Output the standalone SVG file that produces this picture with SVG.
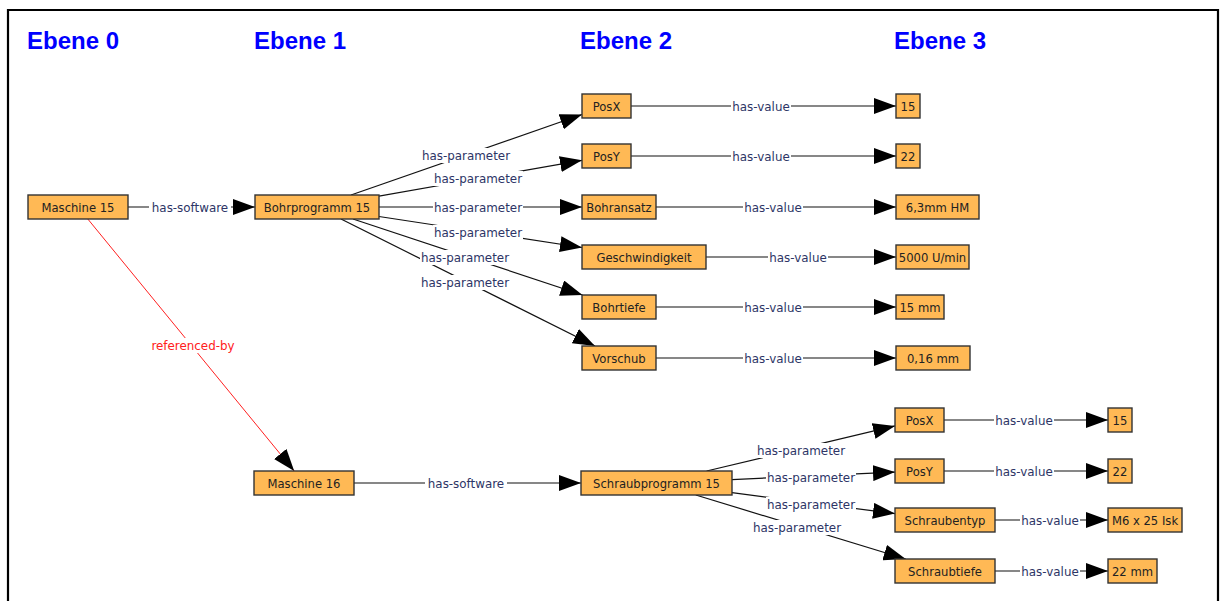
<svg xmlns="http://www.w3.org/2000/svg" width="1223" height="601" viewBox="0 0 1223 601">
  <style>
    .frame { fill: none; stroke: #000; stroke-width: 2.2; }
    .level { font-family: "Liberation Sans", Arial, sans-serif; font-weight: bold; font-size: 24px; fill: #0000ff; }
    .node rect { fill: #ffb955; stroke: #333; stroke-width: 1.4; }
    .node text { font-family: "DejaVu Sans", Tahoma, sans-serif; font-size: 11.6px; fill: #222; text-anchor: middle; dominant-baseline: central; }
    .edge { stroke: #111; stroke-width: 1.2; fill: none; marker-end: url(#arrow); }
    .edge.ref { stroke: #ff2020; stroke-width: 1; }
    .lbl rect { fill: #fff; }
    .lbl text { font-family: "DejaVu Sans", Tahoma, sans-serif; font-size: 11.9px; fill: #2d3566; text-anchor: middle; dominant-baseline: central; }
    .lbl.ref text { fill: #ff2020; }
  </style>
  <defs>
    <marker id="arrow" markerUnits="userSpaceOnUse" markerWidth="23" markerHeight="16" refX="22" refY="8" orient="auto">
      <path d="M0,0 L22,8 L0,16 z" fill="#000"/>
    </marker>
  </defs>

  <rect width="1223" height="601" fill="#fff"/>
  <path class="frame" d="M8,601 V10 H1218 V601"/>

  <!-- level headings -->
  <text class="level" x="27" y="49">Ebene 0</text>
  <text class="level" x="254" y="49">Ebene 1</text>
  <text class="level" x="580" y="49">Ebene 2</text>
  <text class="level" x="894" y="49">Ebene 3</text>

  <!-- connectors -->
  <g id="connectors">
    <line class="edge" x1="128" y1="207" x2="255" y2="207"/>
    <line class="edge" x1="351" y1="195" x2="582" y2="114.5"/>
    <line class="edge" x1="379" y1="196.1" x2="582" y2="160.3"/>
    <line class="edge" x1="379" y1="207" x2="582" y2="207"/>
    <line class="edge" x1="379" y1="216.5" x2="582" y2="247.5"/>
    <line class="edge" x1="353" y1="219" x2="582.5" y2="295"/>
    <line class="edge" x1="341" y1="219" x2="595" y2="346"/>
    <line class="edge" x1="631" y1="106" x2="896" y2="106"/>
    <line class="edge" x1="631" y1="156" x2="896" y2="156"/>
    <line class="edge" x1="656" y1="207" x2="896" y2="207"/>
    <line class="edge" x1="706" y1="257" x2="896" y2="257"/>
    <line class="edge" x1="656" y1="307" x2="896" y2="307"/>
    <line class="edge" x1="656" y1="358" x2="896" y2="358"/>
    <line class="edge ref" x1="87.8" y1="219" x2="294.2" y2="471"/>
    <line class="edge" x1="354" y1="483" x2="581" y2="483"/>
    <line class="edge" x1="706.6" y1="471" x2="895" y2="425.9"/>
    <line class="edge" x1="732" y1="479.6" x2="895" y2="472.1"/>
    <line class="edge" x1="732" y1="492.7" x2="895" y2="513.6"/>
    <line class="edge" x1="695.8" y1="495" x2="905.7" y2="559"/>
    <line class="edge" x1="944" y1="420" x2="1108" y2="420"/>
    <line class="edge" x1="944" y1="471" x2="1108" y2="471"/>
    <line class="edge" x1="995" y1="520" x2="1108" y2="520"/>
    <line class="edge" x1="995" y1="571" x2="1108" y2="571"/>

    <!-- edge labels -->
    <g class="lbl"><rect x="149" y="200" width="82" height="15"/><text x="190" y="207.5">has-software</text></g>
    <g class="lbl"><rect x="421" y="148" width="90" height="15"/><text x="466" y="155.5">has-parameter</text></g>
    <g class="lbl"><rect x="433" y="171" width="90" height="15"/><text x="478" y="178.5">has-parameter</text></g>
    <g class="lbl"><rect x="433" y="200" width="90" height="15"/><text x="478" y="207.5">has-parameter</text></g>
    <g class="lbl"><rect x="433" y="225" width="90" height="15"/><text x="478" y="232.5">has-parameter</text></g>
    <g class="lbl"><rect x="420" y="250" width="90" height="15"/><text x="465" y="257.5">has-parameter</text></g>
    <g class="lbl"><rect x="420" y="275" width="90" height="15"/><text x="465" y="282.5">has-parameter</text></g>
    <g class="lbl"><rect x="731" y="99" width="60" height="15"/><text x="761" y="106.5">has-value</text></g>
    <g class="lbl"><rect x="731" y="149" width="60" height="15"/><text x="761" y="156.5">has-value</text></g>
    <g class="lbl"><rect x="743" y="200" width="60" height="15"/><text x="773" y="207.5">has-value</text></g>
    <g class="lbl"><rect x="768" y="250" width="60" height="15"/><text x="798" y="257.5">has-value</text></g>
    <g class="lbl"><rect x="743" y="300" width="60" height="15"/><text x="773" y="307.5">has-value</text></g>
    <g class="lbl"><rect x="743" y="351" width="60" height="15"/><text x="773" y="358.5">has-value</text></g>
    <g class="lbl ref"><rect x="148" y="338" width="90" height="15"/><text x="193" y="345.5">referenced-by</text></g>
    <g class="lbl"><rect x="425" y="476" width="82" height="15"/><text x="466" y="483.5">has-software</text></g>
    <g class="lbl"><rect x="756" y="443" width="90" height="15"/><text x="801" y="450.5">has-parameter</text></g>
    <g class="lbl"><rect x="766" y="470" width="90" height="15"/><text x="811" y="477.5">has-parameter</text></g>
    <g class="lbl"><rect x="766" y="497" width="90" height="15"/><text x="811" y="504.5">has-parameter</text></g>
    <g class="lbl"><rect x="752" y="520" width="90" height="15"/><text x="797" y="527.5">has-parameter</text></g>
    <g class="lbl"><rect x="994" y="413" width="60" height="15"/><text x="1024" y="420.5">has-value</text></g>
    <g class="lbl"><rect x="994" y="464" width="60" height="15"/><text x="1024" y="471.5">has-value</text></g>
    <g class="lbl"><rect x="1020" y="513" width="60" height="15"/><text x="1050" y="520.5">has-value</text></g>
    <g class="lbl"><rect x="1020" y="564" width="60" height="15"/><text x="1050" y="571.5">has-value</text></g>
  </g>

  <!-- level 0 -->
  <g id="maschine15" class="node"><rect x="28" y="195" width="100" height="24"/><text x="78" y="207.5">Maschine 15</text></g>

  <!-- level 1 -->
  <g id="bohrprogramm15" class="node"><rect x="255" y="195" width="124" height="24"/><text x="317" y="207.5">Bohrprogramm 15</text></g>
  <g id="maschine16" class="node"><rect x="254" y="471" width="100" height="24"/><text x="304" y="483.5">Maschine 16</text></g>

  <!-- level 2 -->
  <g id="posx1" class="node"><rect x="582" y="94" width="49" height="24"/><text x="606.5" y="106.5">PosX</text></g>
  <g id="posy1" class="node"><rect x="582" y="144" width="49" height="24"/><text x="606.5" y="156.5">PosY</text></g>
  <g id="bohransatz" class="node"><rect x="582" y="195" width="74" height="24"/><text x="619" y="207.5">Bohransatz</text></g>
  <g id="geschwindigkeit" class="node"><rect x="582" y="245" width="124" height="24"/><text x="644" y="257.5">Geschwindigkeit</text></g>
  <g id="bohrtiefe" class="node"><rect x="582" y="295" width="74" height="24"/><text x="619" y="307.5">Bohrtiefe</text></g>
  <g id="vorschub" class="node"><rect x="582" y="346" width="74" height="24"/><text x="619" y="358.5">Vorschub</text></g>
  <g id="schraubprogramm15" class="node"><rect x="581" y="471" width="151" height="24"/><text x="656.5" y="483.5">Schraubprogramm 15</text></g>

  <!-- level 3 -->
  <g id="val-posx1" class="node"><rect x="896" y="94" width="24" height="24"/><text x="908" y="106.5">15</text></g>
  <g id="val-posy1" class="node"><rect x="896" y="144" width="24" height="24"/><text x="908" y="156.5">22</text></g>
  <g id="val-bohransatz" class="node"><rect x="896" y="195" width="83" height="24"/><text x="937.5" y="207.5">6,3mm HM</text></g>
  <g id="val-geschwindigkeit" class="node"><rect x="896" y="245" width="73" height="24"/><text x="932.5" y="257.5">5000 U/min</text></g>
  <g id="val-bohrtiefe" class="node"><rect x="896" y="295" width="48" height="24"/><text x="920" y="307.5">15 mm</text></g>
  <g id="val-vorschub" class="node"><rect x="896" y="346" width="74" height="24"/><text x="933" y="358.5">0,16 mm</text></g>
  <g id="posx2" class="node"><rect x="895" y="408" width="49" height="24"/><text x="919.5" y="420.5">PosX</text></g>
  <g id="posy2" class="node"><rect x="895" y="459" width="49" height="24"/><text x="919.5" y="471.5">PosY</text></g>
  <g id="schraubentyp" class="node"><rect x="895" y="508" width="100" height="24"/><text x="945" y="520.5">Schraubentyp</text></g>
  <g id="schraubtiefe" class="node"><rect x="895" y="559" width="100" height="24"/><text x="945" y="571.5">Schraubtiefe</text></g>

  <!-- values of level 3 (second branch) -->
  <g id="val-posx2" class="node"><rect x="1108" y="408" width="24" height="24"/><text x="1120" y="420.5">15</text></g>
  <g id="val-posy2" class="node"><rect x="1108" y="459" width="24" height="24"/><text x="1120" y="471.5">22</text></g>
  <g id="val-schraubentyp" class="node"><rect x="1108" y="508" width="74" height="24"/><text x="1145" y="520.5">M6 x 25 Isk</text></g>
  <g id="val-schraubtiefe" class="node"><rect x="1108" y="559" width="49" height="24"/><text x="1132.5" y="571.5">22 mm</text></g>
</svg>
